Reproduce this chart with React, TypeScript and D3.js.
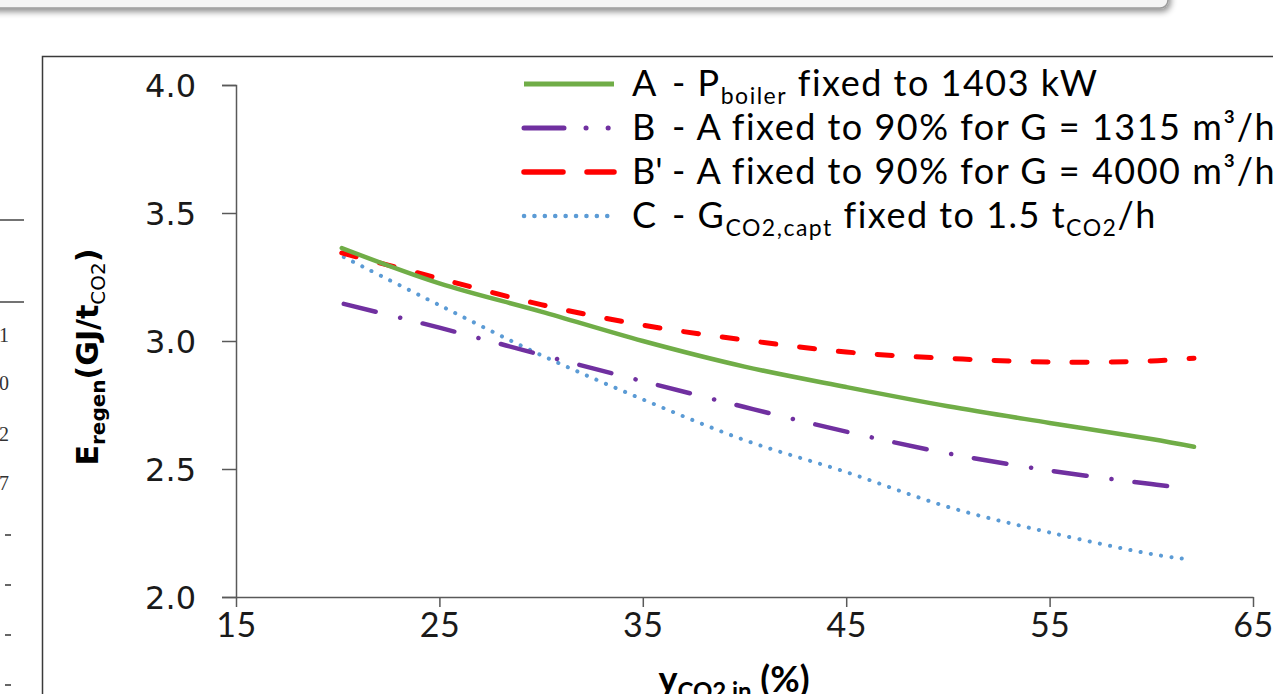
import React, { useRef, useEffect } from "react";
import * as d3 from "d3";

const xTicks = [15, 25, 35, 45, 55, 65];
const yTicks = [2.0, 2.5, 3.0, 3.5, 4.0];

// A - P boiler fixed to 1403 kW
const xA = [20.2, 25, 30, 35, 40, 45, 50, 55, 60, 62.1];
const eA = [3.363, 3.225, 3.115, 3.0, 2.9, 2.82, 2.745, 2.68, 2.617, 2.587];
// B - A fixed to 90% for G = 1315
const xB = [20.3, 25, 30, 35, 40, 45, 50, 55, 60, 61.2];
const eB = [3.145, 3.052, 2.946, 2.843, 2.742, 2.646, 2.561, 2.494, 2.441, 2.43];
// B' - A fixed to 90% for G = 4000
const xB2 = [20.2, 25, 30, 35, 40, 45, 50, 55, 60, 62.1];
const eB2 = [3.344, 3.244, 3.142, 3.062, 3.004, 2.957, 2.932, 2.918, 2.922, 2.933];
// C - G CO2,capt fixed to 1.5
const xC = [20.3, 25, 30, 35, 40, 45, 50, 55, 60, 61.7];
const eC = [3.328, 3.14, 2.945, 2.772, 2.613, 2.488, 2.352, 2.252, 2.168, 2.148];

// left edge fragments of a neighbouring table
const sideNums = ["1", "0", "2", "7"];

const Chart = () => {
  const svgRef = useRef<SVGSVGElement | null>(null);

  useEffect(() => {
    const svg = d3.select(svgRef.current);
    svg.selectAll("*").remove();

    const x = d3.scaleLinear().domain([15, 65]).range([236, 1253]);
    const y = d3.scaleLinear().domain([2, 4]).range([597, 85]);

    // shadow for the top banner
    const defs = svg.append("defs");
    const f = defs.append("filter").attr("id", "shadow").attr("x", "-5%").attr("y", "-50%").attr("width", "110%").attr("height", "250%");
    f.append("feDropShadow").attr("dx", 2).attr("dy", 3).attr("stdDeviation", 3).attr("flood-color", "#000").attr("flood-opacity", 0.45);

    svg.append("rect")
      .attr("x", -20).attr("y", -40).attr("width", 1188).attr("height", 48).attr("rx", 8)
      .attr("fill", "#f4f4f4").attr("stroke", "#9a9a9a").attr("stroke-width", 1.5)
      .attr("filter", "url(#shadow)");

    // chart border
    svg.append("path")
      .attr("d", "M42.5,700 V56.5 H1280")
      .attr("fill", "none").attr("stroke", "#3a3a3a").attr("stroke-width", 1.5);

    // side table fragments
    [220, 302].forEach(v => {
      svg.append("line").attr("x1", 0).attr("x2", 24).attr("y1", v).attr("y2", v)
        .attr("stroke", "#444").attr("stroke-width", 1.5);
    });
    svg.selectAll(".side").data(sideNums).enter().append("text")
      .attr("x", 9).attr("y", (d, i) => [342, 390, 441, 490][i])
      .attr("text-anchor", "end").attr("font-family", "Liberation Serif").attr("font-size", 20)
      .attr("fill", "#333").text(d => d);
    [535, 585, 635, 685].forEach(v => {
      svg.append("line").attr("x1", 5).attr("x2", 11).attr("y1", v).attr("y2", v)
        .attr("stroke", "#333").attr("stroke-width", 1.5);
    });

    const g = svg.append("g");

    // y axis
    const yAxis = d3.axisLeft(y).tickValues(yTicks).tickSize(14).tickPadding(26)
      .tickFormat(d3.format(".1f"));
    const yAxisG = g.append("g").attr("transform", "translate(236,0)").call(yAxis);
    yAxisG.select(".domain").attr("stroke", "#595959").attr("stroke-width", 1.5);
    yAxisG.selectAll(".tick line").attr("stroke", "#595959").attr("stroke-width", 1.5);
    yAxisG.selectAll(".tick text")
      .attr("font-family", "DejaVu Sans").attr("font-size", 32).attr("fill", "#1a1a1a")
      .attr("dy", "0.36em");

    // x axis
    const xAxis = d3.axisBottom(x).tickValues(xTicks).tickSizeInner(10).tickSizeOuter(0).tickPadding(6)
      .tickFormat(d3.format("d"));
    const xAxisG = g.append("g").attr("transform", "translate(0,597)").call(xAxis);
    xAxisG.select(".domain").attr("stroke", "#595959").attr("stroke-width", 1.5);
    xAxisG.selectAll(".tick line").attr("stroke", "#595959").attr("stroke-width", 1.5);
    xAxisG.selectAll(".tick text")
      .attr("font-family", "Lato").attr("font-size", 34).attr("fill", "#1a1a1a")
      .attr("letter-spacing", 0.5)
      .attr("dy", "0.71em");

    // axis titles
    const yt = g.append("text")
      .attr("transform", "translate(98,357) rotate(-90)")
      .attr("text-anchor", "middle").attr("font-family", "DejaVu Sans").attr("font-weight", "bold")
      .attr("font-size", 30).attr("fill", "#000");
    yt.append("tspan").text("E");
    yt.append("tspan").attr("font-size", 20).attr("dy", 7).text("regen");
    yt.append("tspan").attr("dy", -7).text("(GJ/t");
    yt.append("tspan").attr("font-size", 20).attr("font-weight", "normal").attr("dy", 7).text("CO2");
    yt.append("tspan").attr("dy", -7).text(")");

    const xt = g.append("text")
      .attr("x", 734).attr("y", 692)
      .attr("text-anchor", "middle").attr("font-family", "Lato").attr("font-weight", "bold")
      .attr("font-size", 36).attr("fill", "#000");
    xt.append("tspan").text("y");
    xt.append("tspan").attr("font-size", 24).attr("dy", 8).text("CO2,in");
    xt.append("tspan").attr("dy", -8).text(" (%)");

    // series
    const series = [
      { xs: xA, ys: eA, color: "#70AD47", width: 4.5, dash: null, legendDash: null, key: "A", label: "P", sub: "boiler", rest: " fixed to 1403 kW" },
      { xs: xB, ys: eB, color: "#7030A0", width: 4.5, dash: "33,25,0.1,23", legendDash: "40,22,0.1,22,0.1,40", key: "B", label: "A fixed to 90% for G = 1315 m³/h", sub: "", rest: "" },
      { xs: xB2, ys: eB2, color: "#FF0000", width: 5, dash: "15,24", legendDash: "39,24", key: "B'", label: "A fixed to 90% for G = 4000 m³/h", sub: "", rest: "" },
      { xs: xC, ys: eC, color: "#5B9BD5", width: 4, dash: "0.1,10.3", legendDash: "0.1,10.3", key: "C", label: "G", sub: "CO2,capt", rest: " fixed to 1.5 t" },
    ];

    const line = d3.line<[number, number]>()
      .x(d => x(d[0]))
      .y(d => y(d[1]))
      .curve(d3.curveCatmullRom.alpha(0.5));

    // draw order: C, B, B', A
    [3, 1, 2, 0].forEach(i => {
      const s = series[i];
      const pts = s.xs.map((v, j) => [v, s.ys[j]] as [number, number]);
      g.append("path")
        .attr("d", line(pts))
        .attr("fill", "none")
        .attr("stroke", s.color)
        .attr("stroke-width", s.width)
        .attr("stroke-linecap", "round")
        .attr("stroke-dasharray", s.dash);
    });

    // legend
    const rowY = [84, 128, 172, 216];
    series.forEach((s, i) => {
      const ry = rowY[i];
      g.append("line")
        .attr("x1", 524).attr("x2", 614).attr("y1", ry).attr("y2", ry)
        .attr("stroke", s.color).attr("stroke-width", s.width + 0.5)
        .attr("stroke-linecap", s.legendDash ? "round" : "butt")
        .attr("stroke-dasharray", s.legendDash);
      g.append("text")
        .attr("x", 632).attr("y", ry + 12)
        .attr("font-family", "Lato").attr("font-size", 36).attr("fill", "#000")
        .text(s.key);
      const t = g.append("text")
        .attr("x", 672).attr("y", ry + 12)
        .attr("font-family", "Lato").attr("font-size", 36).attr("fill", "#000")
        .attr("letter-spacing", 1.5);
      t.append("tspan").text("- " + s.label);
      if (s.sub) {
        t.append("tspan").attr("font-size", 23).attr("dy", 8).text(s.sub);
        t.append("tspan").attr("dy", -8).text(s.rest);
      }
      if (s.key === "C") {
        t.append("tspan").attr("font-size", 23).attr("dy", 8).text("CO2");
        t.append("tspan").attr("dy", -8).text("/h");
      }
    });
  }, []);

  return (
    <svg
      ref={svgRef}
      width={1273}
      height={694}
      style={{ position: "absolute", left: 0, top: 0, display: "block", background: "#fff" }}
    />
  );
};

const App = () => {
  return (
    <div style={{ position: "fixed", left: 0, top: 0, width: 1273, height: 694, overflow: "hidden", background: "#fff" }}>
      <Chart />
    </div>
  );
};

export default App;
